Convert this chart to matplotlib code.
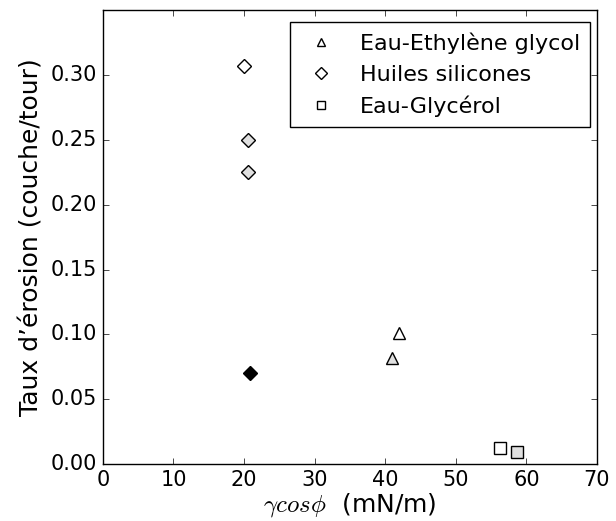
import matplotlib
matplotlib.use("Agg")
import matplotlib.pyplot as plt

plt.style.use("classic")
plt.rcParams["font.family"] = "DejaVu Sans"

# Eau-Ethylene glycol
eg_x = [41.9, 40.9]
eg_y = [0.101, 0.082]
eg_fill = ["white", "#e0e0e0"]
# Huiles silicones
hs_x = [20.0, 20.6, 20.6, 20.8]
hs_y = [0.307, 0.250, 0.225, 0.070]
hs_fill = ["white", "#e0e0e0", "#e0e0e0", "black"]
# Eau-Glycerol
gl_x = [56.2, 58.7]
gl_y = [0.012, 0.009]
gl_fill = ["white", "#e0e0e0"]

fig = plt.figure(figsize=(6.16, 5.21), dpi=100, facecolor="white")
ax = fig.add_axes([0.167, 0.1094, 0.802, 0.871])

ms = 9
for xs, ys, fills, mk, lab in [(eg_x, eg_y, eg_fill, "^", "Eau-Ethylène glycol"),
                               (hs_x, hs_y, hs_fill, "D", "Huiles silicones"),
                               (gl_x, gl_y, gl_fill, "s", "Eau-Glycérol")]:
    msz = ms - 1.5 if mk == "D" else ms
    for i, (x, y, f) in enumerate(zip(xs, ys, fills)):
        ax.plot([x], [y], linestyle="none", marker=mk, markersize=msz,
                markerfacecolor=f, markeredgecolor="black", markeredgewidth=1.0,
                label=lab if i == 0 else None)

ax.set_xlim(0, 70)
ax.set_ylim(0, 0.35)
ax.set_xticks(range(0, 71, 10))
ax.set_yticks([0.0, 0.05, 0.10, 0.15, 0.20, 0.25, 0.30])
ax.set_yticklabels(["0.00", "0.05", "0.10", "0.15", "0.20", "0.25", "0.30"])
ax.tick_params(labelsize=15)
ax.set_xlabel(r"$\gamma cos\phi$  (mN/m)", fontsize=18, labelpad=1)
ax.set_ylabel("Taux d\u2019érosion (couche/tour)", fontsize=18)

leg = ax.legend(loc="upper right", bbox_to_anchor=(0.986, 0.974), borderaxespad=0,
                numpoints=1, fontsize=16, frameon=True, labelspacing=0.5,
                borderpad=0.45, handlelength=1.9)
for h in leg.legend_handles:
    h.set_markerfacecolor("white")
    h.set_markersize(6)

fig.savefig("out.png", dpi=100, facecolor="white")
